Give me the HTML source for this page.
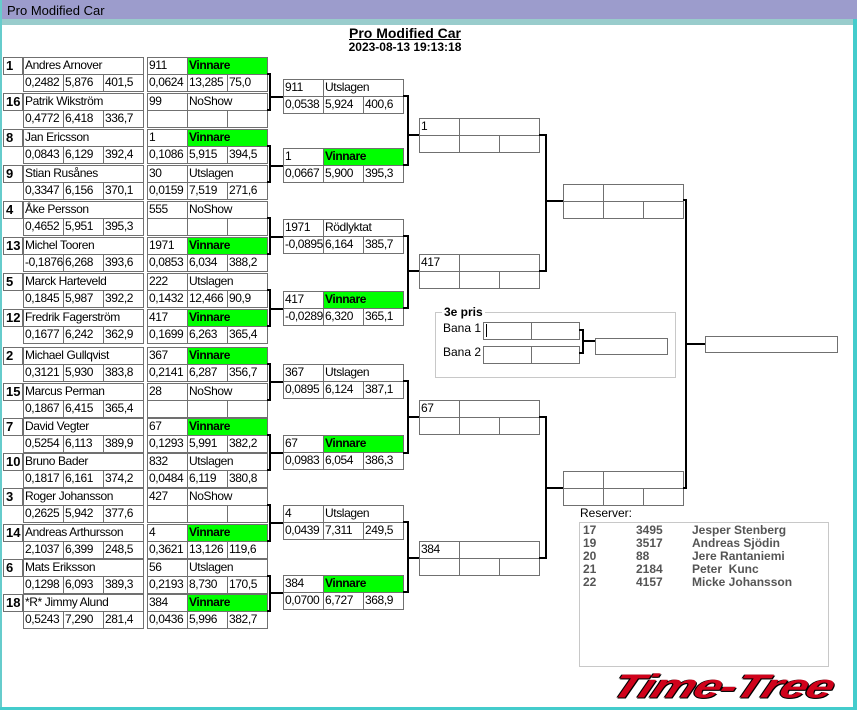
<!DOCTYPE html>
<html><head><meta charset="utf-8"><style>
*{margin:0;padding:0;box-sizing:border-box}
body{width:857px;height:710px;position:relative;background:#fff;overflow:hidden;font-family:"Liberation Sans",sans-serif;font-size:12px;color:#000}
.a{position:absolute}
.c{position:absolute;border:1px solid #707070;height:18px;line-height:15px;padding-left:1px;white-space:nowrap;overflow:hidden;background:#fff;letter-spacing:-0.4px}
.g{background:#00ff00;font-weight:bold}
.s{font-weight:bold;font-size:13px;padding-left:2px;letter-spacing:0}
.v{position:absolute;border:2px solid #000;border-left:none}
.h{position:absolute;height:2px;background:#000}
.r{position:absolute;font-weight:bold;color:#555;font-size:12px}
</style></head><body>
<div class="a" style="left:0;top:0;width:857px;height:19px;background:#9c9ccc"></div>
<div class="a" style="left:0;top:19px;width:857px;height:6px;background:#99cccc"></div>
<div class="a" style="left:0;top:0;width:2px;height:710px;background:#66cccc"></div>
<div class="a" style="left:853px;top:19px;width:4px;height:691px;background:#44cccc"></div>
<div class="a" style="left:0;top:707px;width:857px;height:3px;background:#44cccc"></div>
<div class="a" style="left:7px;top:3px;font-size:13px;line-height:16px">Pro Modified Car</div>
<div class="a" style="left:0;width:810px;top:25px;text-align:center;font-weight:bold;font-size:14px;text-decoration:underline">Pro Modified Car</div>
<div class="a" style="left:0;width:810px;top:40px;text-align:center;font-weight:bold;font-size:12px">2023-08-13 19:13:18</div>

<!-- Round 1 -->
<div class="c s" style="left:3px;top:57px;width:20px">1</div>
<div class="c" style="left:23px;top:57px;width:121px">Andres Arnover</div>
<div class="c" style="left:23px;top:74px;width:41px">0,2482</div><div class="c" style="left:63px;top:74px;width:41px">5,876</div><div class="c" style="left:103px;top:74px;width:41px">401,5</div>
<div class="c" style="left:147px;top:57px;width:41px">911</div><div class="c g" style="left:187px;top:57px;width:81px">Vinnare</div>
<div class="c" style="left:147px;top:74px;width:41px">0,0624</div><div class="c" style="left:187px;top:74px;width:41px">13,285</div><div class="c" style="left:227px;top:74px;width:41px">75,0</div>

<div class="c s" style="left:3px;top:93px;width:20px">16</div>
<div class="c" style="left:23px;top:93px;width:121px">Patrik Wikström</div>
<div class="c" style="left:23px;top:110px;width:41px">0,4772</div><div class="c" style="left:63px;top:110px;width:41px">6,418</div><div class="c" style="left:103px;top:110px;width:41px">336,7</div>
<div class="c" style="left:147px;top:93px;width:41px">99</div><div class="c" style="left:187px;top:93px;width:81px">NoShow</div>
<div class="c" style="left:147px;top:110px;width:41px"></div><div class="c" style="left:187px;top:110px;width:41px"></div><div class="c" style="left:227px;top:110px;width:41px"></div>

<div class="c s" style="left:3px;top:129px;width:20px">8</div>
<div class="c" style="left:23px;top:129px;width:121px">Jan Ericsson</div>
<div class="c" style="left:23px;top:146px;width:41px">0,0843</div><div class="c" style="left:63px;top:146px;width:41px">6,129</div><div class="c" style="left:103px;top:146px;width:41px">392,4</div>
<div class="c" style="left:147px;top:129px;width:41px">1</div><div class="c g" style="left:187px;top:129px;width:81px">Vinnare</div>
<div class="c" style="left:147px;top:146px;width:41px">0,1086</div><div class="c" style="left:187px;top:146px;width:41px">5,915</div><div class="c" style="left:227px;top:146px;width:41px">394,5</div>

<div class="c s" style="left:3px;top:165px;width:20px">9</div>
<div class="c" style="left:23px;top:165px;width:121px">Stian Rusånes</div>
<div class="c" style="left:23px;top:182px;width:41px">0,3347</div><div class="c" style="left:63px;top:182px;width:41px">6,156</div><div class="c" style="left:103px;top:182px;width:41px">370,1</div>
<div class="c" style="left:147px;top:165px;width:41px">30</div><div class="c" style="left:187px;top:165px;width:81px">Utslagen</div>
<div class="c" style="left:147px;top:182px;width:41px">0,0159</div><div class="c" style="left:187px;top:182px;width:41px">7,519</div><div class="c" style="left:227px;top:182px;width:41px">271,6</div>

<div class="c s" style="left:3px;top:201px;width:20px">4</div>
<div class="c" style="left:23px;top:201px;width:121px">Åke Persson</div>
<div class="c" style="left:23px;top:218px;width:41px">0,4652</div><div class="c" style="left:63px;top:218px;width:41px">5,951</div><div class="c" style="left:103px;top:218px;width:41px">395,3</div>
<div class="c" style="left:147px;top:201px;width:41px">555</div><div class="c" style="left:187px;top:201px;width:81px">NoShow</div>
<div class="c" style="left:147px;top:218px;width:41px"></div><div class="c" style="left:187px;top:218px;width:41px"></div><div class="c" style="left:227px;top:218px;width:41px"></div>

<div class="c s" style="left:3px;top:237px;width:20px">13</div>
<div class="c" style="left:23px;top:237px;width:121px">Michel Tooren</div>
<div class="c" style="left:23px;top:254px;width:41px">-0,1876</div><div class="c" style="left:63px;top:254px;width:41px">6,268</div><div class="c" style="left:103px;top:254px;width:41px">393,6</div>
<div class="c" style="left:147px;top:237px;width:41px">1971</div><div class="c g" style="left:187px;top:237px;width:81px">Vinnare</div>
<div class="c" style="left:147px;top:254px;width:41px">0,0853</div><div class="c" style="left:187px;top:254px;width:41px">6,034</div><div class="c" style="left:227px;top:254px;width:41px">388,2</div>

<div class="c s" style="left:3px;top:273px;width:20px">5</div>
<div class="c" style="left:23px;top:273px;width:121px">Marck Harteveld</div>
<div class="c" style="left:23px;top:290px;width:41px">0,1845</div><div class="c" style="left:63px;top:290px;width:41px">5,987</div><div class="c" style="left:103px;top:290px;width:41px">392,2</div>
<div class="c" style="left:147px;top:273px;width:41px">222</div><div class="c" style="left:187px;top:273px;width:81px">Utslagen</div>
<div class="c" style="left:147px;top:290px;width:41px">0,1432</div><div class="c" style="left:187px;top:290px;width:41px">12,466</div><div class="c" style="left:227px;top:290px;width:41px">90,9</div>

<div class="c s" style="left:3px;top:309px;width:20px">12</div>
<div class="c" style="left:23px;top:309px;width:121px">Fredrik Fagerström</div>
<div class="c" style="left:23px;top:326px;width:41px">0,1677</div><div class="c" style="left:63px;top:326px;width:41px">6,242</div><div class="c" style="left:103px;top:326px;width:41px">362,9</div>
<div class="c" style="left:147px;top:309px;width:41px">417</div><div class="c g" style="left:187px;top:309px;width:81px">Vinnare</div>
<div class="c" style="left:147px;top:326px;width:41px">0,1699</div><div class="c" style="left:187px;top:326px;width:41px">6,263</div><div class="c" style="left:227px;top:326px;width:41px">365,4</div>

<div class="c s" style="left:3px;top:347px;width:20px">2</div>
<div class="c" style="left:23px;top:347px;width:121px">Michael Gullqvist</div>
<div class="c" style="left:23px;top:364px;width:41px">0,3121</div><div class="c" style="left:63px;top:364px;width:41px">5,930</div><div class="c" style="left:103px;top:364px;width:41px">383,8</div>
<div class="c" style="left:147px;top:347px;width:41px">367</div><div class="c g" style="left:187px;top:347px;width:81px">Vinnare</div>
<div class="c" style="left:147px;top:364px;width:41px">0,2141</div><div class="c" style="left:187px;top:364px;width:41px">6,287</div><div class="c" style="left:227px;top:364px;width:41px">356,7</div>

<div class="c s" style="left:3px;top:383px;width:20px">15</div>
<div class="c" style="left:23px;top:383px;width:121px">Marcus Perman</div>
<div class="c" style="left:23px;top:400px;width:41px">0,1867</div><div class="c" style="left:63px;top:400px;width:41px">6,415</div><div class="c" style="left:103px;top:400px;width:41px">365,4</div>
<div class="c" style="left:147px;top:383px;width:41px">28</div><div class="c" style="left:187px;top:383px;width:81px">NoShow</div>
<div class="c" style="left:147px;top:400px;width:41px"></div><div class="c" style="left:187px;top:400px;width:41px"></div><div class="c" style="left:227px;top:400px;width:41px"></div>

<div class="c s" style="left:3px;top:418px;width:20px">7</div>
<div class="c" style="left:23px;top:418px;width:121px">David Vegter</div>
<div class="c" style="left:23px;top:435px;width:41px">0,5254</div><div class="c" style="left:63px;top:435px;width:41px">6,113</div><div class="c" style="left:103px;top:435px;width:41px">389,9</div>
<div class="c" style="left:147px;top:418px;width:41px">67</div><div class="c g" style="left:187px;top:418px;width:81px">Vinnare</div>
<div class="c" style="left:147px;top:435px;width:41px">0,1293</div><div class="c" style="left:187px;top:435px;width:41px">5,991</div><div class="c" style="left:227px;top:435px;width:41px">382,2</div>

<div class="c s" style="left:3px;top:453px;width:20px">10</div>
<div class="c" style="left:23px;top:453px;width:121px">Bruno Bader</div>
<div class="c" style="left:23px;top:470px;width:41px">0,1817</div><div class="c" style="left:63px;top:470px;width:41px">6,161</div><div class="c" style="left:103px;top:470px;width:41px">374,2</div>
<div class="c" style="left:147px;top:453px;width:41px">832</div><div class="c" style="left:187px;top:453px;width:81px">Utslagen</div>
<div class="c" style="left:147px;top:470px;width:41px">0,0484</div><div class="c" style="left:187px;top:470px;width:41px">6,119</div><div class="c" style="left:227px;top:470px;width:41px">380,8</div>

<div class="c s" style="left:3px;top:488px;width:20px">3</div>
<div class="c" style="left:23px;top:488px;width:121px">Roger Johansson</div>
<div class="c" style="left:23px;top:505px;width:41px">0,2625</div><div class="c" style="left:63px;top:505px;width:41px">5,942</div><div class="c" style="left:103px;top:505px;width:41px">377,6</div>
<div class="c" style="left:147px;top:488px;width:41px">427</div><div class="c" style="left:187px;top:488px;width:81px">NoShow</div>
<div class="c" style="left:147px;top:505px;width:41px"></div><div class="c" style="left:187px;top:505px;width:41px"></div><div class="c" style="left:227px;top:505px;width:41px"></div>

<div class="c s" style="left:3px;top:524px;width:20px">14</div>
<div class="c" style="left:23px;top:524px;width:121px">Andreas Arthursson</div>
<div class="c" style="left:23px;top:541px;width:41px">2,1037</div><div class="c" style="left:63px;top:541px;width:41px">6,399</div><div class="c" style="left:103px;top:541px;width:41px">248,5</div>
<div class="c" style="left:147px;top:524px;width:41px">4</div><div class="c g" style="left:187px;top:524px;width:81px">Vinnare</div>
<div class="c" style="left:147px;top:541px;width:41px">0,3621</div><div class="c" style="left:187px;top:541px;width:41px">13,126</div><div class="c" style="left:227px;top:541px;width:41px">119,6</div>

<div class="c s" style="left:3px;top:559px;width:20px">6</div>
<div class="c" style="left:23px;top:559px;width:121px">Mats Eriksson</div>
<div class="c" style="left:23px;top:576px;width:41px">0,1298</div><div class="c" style="left:63px;top:576px;width:41px">6,093</div><div class="c" style="left:103px;top:576px;width:41px">389,3</div>
<div class="c" style="left:147px;top:559px;width:41px">56</div><div class="c" style="left:187px;top:559px;width:81px">Utslagen</div>
<div class="c" style="left:147px;top:576px;width:41px">0,2193</div><div class="c" style="left:187px;top:576px;width:41px">8,730</div><div class="c" style="left:227px;top:576px;width:41px">170,5</div>

<div class="c s" style="left:3px;top:594px;width:20px">18</div>
<div class="c" style="left:23px;top:594px;width:121px">*R* Jimmy Alund</div>
<div class="c" style="left:23px;top:611px;width:41px">0,5243</div><div class="c" style="left:63px;top:611px;width:41px">7,290</div><div class="c" style="left:103px;top:611px;width:41px">281,4</div>
<div class="c" style="left:147px;top:594px;width:41px">384</div><div class="c g" style="left:187px;top:594px;width:81px">Vinnare</div>
<div class="c" style="left:147px;top:611px;width:41px">0,0436</div><div class="c" style="left:187px;top:611px;width:41px">5,996</div><div class="c" style="left:227px;top:611px;width:41px">382,7</div>

<!-- R1 connectors -->
<div class="v" style="left:267px;top:73px;width:4px;height:38px"></div><div class="h" style="left:270px;top:96px;width:13px"></div>
<div class="v" style="left:267px;top:145px;width:4px;height:38px"></div><div class="h" style="left:270px;top:165px;width:13px"></div>
<div class="v" style="left:267px;top:217px;width:4px;height:38px"></div><div class="h" style="left:270px;top:236px;width:13px"></div>
<div class="v" style="left:267px;top:289px;width:4px;height:38px"></div><div class="h" style="left:270px;top:308px;width:13px"></div>
<div class="v" style="left:267px;top:363px;width:4px;height:38px"></div><div class="h" style="left:270px;top:381px;width:13px"></div>
<div class="v" style="left:267px;top:434px;width:4px;height:37px"></div><div class="h" style="left:270px;top:452px;width:13px"></div>
<div class="v" style="left:267px;top:504px;width:4px;height:38px"></div><div class="h" style="left:270px;top:522px;width:13px"></div>
<div class="v" style="left:267px;top:575px;width:4px;height:37px"></div><div class="h" style="left:270px;top:592px;width:13px"></div>

<!-- Round 2 -->
<div class="c" style="left:283px;top:79px;width:41px">911</div><div class="c" style="left:323px;top:79px;width:81px">Utslagen</div>
<div class="c" style="left:283px;top:96px;width:41px">0,0538</div><div class="c" style="left:323px;top:96px;width:41px">5,924</div><div class="c" style="left:363px;top:96px;width:41px">400,6</div>
<div class="c" style="left:283px;top:148px;width:41px">1</div><div class="c g" style="left:323px;top:148px;width:81px">Vinnare</div>
<div class="c" style="left:283px;top:165px;width:41px">0,0667</div><div class="c" style="left:323px;top:165px;width:41px">5,900</div><div class="c" style="left:363px;top:165px;width:41px">395,3</div>
<div class="c" style="left:283px;top:219px;width:41px">1971</div><div class="c" style="left:323px;top:219px;width:81px">Rödlyktat</div>
<div class="c" style="left:283px;top:236px;width:41px">-0,0895</div><div class="c" style="left:323px;top:236px;width:41px">6,164</div><div class="c" style="left:363px;top:236px;width:41px">385,7</div>
<div class="c" style="left:283px;top:291px;width:41px">417</div><div class="c g" style="left:323px;top:291px;width:81px">Vinnare</div>
<div class="c" style="left:283px;top:308px;width:41px">-0,0289</div><div class="c" style="left:323px;top:308px;width:41px">6,320</div><div class="c" style="left:363px;top:308px;width:41px">365,1</div>
<div class="c" style="left:283px;top:364px;width:41px">367</div><div class="c" style="left:323px;top:364px;width:81px">Utslagen</div>
<div class="c" style="left:283px;top:381px;width:41px">0,0895</div><div class="c" style="left:323px;top:381px;width:41px">6,124</div><div class="c" style="left:363px;top:381px;width:41px">387,1</div>
<div class="c" style="left:283px;top:435px;width:41px">67</div><div class="c g" style="left:323px;top:435px;width:81px">Vinnare</div>
<div class="c" style="left:283px;top:452px;width:41px">0,0983</div><div class="c" style="left:323px;top:452px;width:41px">6,054</div><div class="c" style="left:363px;top:452px;width:41px">386,3</div>
<div class="c" style="left:283px;top:505px;width:41px">4</div><div class="c" style="left:323px;top:505px;width:81px">Utslagen</div>
<div class="c" style="left:283px;top:522px;width:41px">0,0439</div><div class="c" style="left:323px;top:522px;width:41px">7,311</div><div class="c" style="left:363px;top:522px;width:41px">249,5</div>
<div class="c" style="left:283px;top:575px;width:41px">384</div><div class="c g" style="left:323px;top:575px;width:81px">Vinnare</div>
<div class="c" style="left:283px;top:592px;width:41px">0,0700</div><div class="c" style="left:323px;top:592px;width:41px">6,727</div><div class="c" style="left:363px;top:592px;width:41px">368,9</div>

<!-- R2 connectors -->
<div class="v" style="left:403px;top:95px;width:6px;height:71px"></div><div class="h" style="left:408px;top:134px;width:11px"></div>
<div class="v" style="left:403px;top:235px;width:6px;height:74px"></div><div class="h" style="left:408px;top:270px;width:11px"></div>
<div class="v" style="left:403px;top:380px;width:6px;height:74px"></div><div class="h" style="left:408px;top:416px;width:11px"></div>
<div class="v" style="left:403px;top:521px;width:6px;height:72px"></div><div class="h" style="left:408px;top:557px;width:11px"></div>

<!-- QF -->
<div class="c" style="left:419px;top:118px;width:41px">1</div><div class="c" style="left:459px;top:118px;width:81px"></div>
<div class="c" style="left:419px;top:135px;width:41px"></div><div class="c" style="left:459px;top:135px;width:41px"></div><div class="c" style="left:499px;top:135px;width:41px"></div>
<div class="c" style="left:419px;top:254px;width:41px">417</div><div class="c" style="left:459px;top:254px;width:81px"></div>
<div class="c" style="left:419px;top:271px;width:41px"></div><div class="c" style="left:459px;top:271px;width:41px"></div><div class="c" style="left:499px;top:271px;width:41px"></div>
<div class="c" style="left:419px;top:400px;width:41px">67</div><div class="c" style="left:459px;top:400px;width:81px"></div>
<div class="c" style="left:419px;top:417px;width:41px"></div><div class="c" style="left:459px;top:417px;width:41px"></div><div class="c" style="left:499px;top:417px;width:41px"></div>
<div class="c" style="left:419px;top:541px;width:41px">384</div><div class="c" style="left:459px;top:541px;width:81px"></div>
<div class="c" style="left:419px;top:558px;width:41px"></div><div class="c" style="left:459px;top:558px;width:41px"></div><div class="c" style="left:499px;top:558px;width:41px"></div>

<div class="v" style="left:539px;top:134px;width:8px;height:138px"></div><div class="h" style="left:546px;top:200px;width:17px"></div>
<div class="v" style="left:539px;top:416px;width:8px;height:143px"></div><div class="h" style="left:546px;top:487px;width:17px"></div>

<!-- SF -->
<div class="c" style="left:563px;top:184px;width:41px"></div><div class="c" style="left:603px;top:184px;width:81px"></div>
<div class="c" style="left:563px;top:201px;width:41px"></div><div class="c" style="left:603px;top:201px;width:41px"></div><div class="c" style="left:643px;top:201px;width:41px"></div>
<div class="c" style="left:563px;top:471px;width:41px"></div><div class="c" style="left:603px;top:471px;width:81px"></div>
<div class="c" style="left:563px;top:488px;width:41px"></div><div class="c" style="left:603px;top:488px;width:41px"></div><div class="c" style="left:643px;top:488px;width:41px"></div>
<div class="v" style="left:683px;top:199px;width:4px;height:290px"></div><div class="h" style="left:686px;top:343px;width:19px"></div>
<div class="c" style="left:705px;top:336px;width:133px;height:17px"></div>

<!-- 3e pris -->
<div class="a" style="left:435px;top:312px;width:241px;height:66px;border:1px solid #c8c8c8"></div>
<div class="a" style="left:442px;top:305px;background:#fff;padding:0 2px;font-weight:bold;font-size:12px">3e pris</div>
<div class="a" style="left:443px;top:321px;font-size:12px">Bana 1</div>
<div class="a" style="left:443px;top:345px;font-size:12px">Bana 2</div>
<div class="c" style="left:483px;top:322px;width:49px"><span style="display:inline-block;width:1px;height:13px;background:#000;margin-top:1px;margin-left:1px"></span></div><div class="c" style="left:531px;top:322px;width:49px"></div>
<div class="c" style="left:483px;top:346px;width:49px"></div><div class="c" style="left:531px;top:346px;width:49px"></div>
<div class="v" style="left:579px;top:329px;width:5px;height:25px"></div><div class="h" style="left:583px;top:340px;width:12px"></div>
<div class="c" style="left:595px;top:338px;width:73px;height:17px"></div>

<!-- Reserver -->
<div class="a" style="left:580px;top:506px;font-size:12px">Reserver:</div>
<div class="a" style="left:579px;top:522px;width:250px;height:145px;border:1px solid #c8c8c8"></div>
<div class="r" style="left:583px;top:523px">17</div><div class="r" style="left:636px;top:523px">3495</div><div class="r" style="left:692px;top:523px">Jesper Stenberg</div>
<div class="r" style="left:583px;top:536px">19</div><div class="r" style="left:636px;top:536px">3517</div><div class="r" style="left:692px;top:536px">Andreas Sjödin</div>
<div class="r" style="left:583px;top:549px">20</div><div class="r" style="left:636px;top:549px">88</div><div class="r" style="left:692px;top:549px">Jere Rantaniemi</div>
<div class="r" style="left:583px;top:562px">21</div><div class="r" style="left:636px;top:562px">2184</div><div class="r" style="left:692px;top:562px">Peter&nbsp; Kunc</div>
<div class="r" style="left:583px;top:575px">22</div><div class="r" style="left:636px;top:575px">4157</div><div class="r" style="left:692px;top:575px">Micke Johansson</div>

<!-- Logo -->
<div class="a" style="left:620px;top:670px;font-weight:bold;font-style:italic;font-size:35px;line-height:35px;color:#d0021b;letter-spacing:-1px;transform:skewX(-22deg) scale(1.4,0.95);transform-origin:left top;text-shadow:1px 1px 0 #000,-1px 0 0 #000,0 1px 0 #000;white-space:nowrap">Time-Tree</div>
</body></html>
